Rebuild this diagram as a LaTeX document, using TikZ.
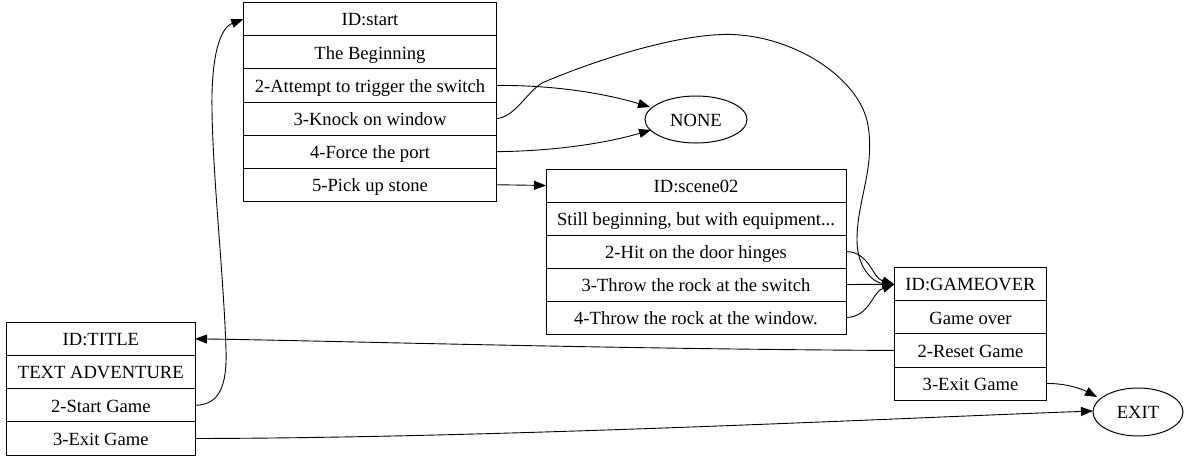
\documentclass[tikz,border=0pt]{standalone}
\usepackage{fontspec}
\setmainfont{Liberation Serif}
\usetikzlibrary{arrows.meta,shapes.geometric}
\begin{document}
\begin{tikzpicture}[x=1pt,y=-1pt,
  font=\fontsize{18.6}{20}\selectfont,
  cell/.style={draw, line width=1pt, inner sep=0pt, outer sep=0pt, minimum height=33.1pt, text height=13.4pt, text depth=0pt},
  startcell/.style={cell, minimum width=253.4pt},
  scenecell/.style={cell, minimum width=300pt, minimum height=33pt},
  gocell/.style={cell, minimum width=152.4pt},
  titlecell/.style={cell, minimum width=188.3pt, minimum height=33.2pt},
  term/.style={draw, line width=1pt, ellipse, inner sep=0pt, text height=13.4pt, text depth=0pt},
  edge/.style={line width=0.9pt, -{Triangle[length=12pt,width=9pt]}}
]
\useasboundingbox (0,0) rectangle (1192,466);
% start record
\node[startcell] (s1) at (370,19.25) {ID:start};
\node[startcell] (s2) at (370,52.35) {The Beginning};
\node[startcell] (s3) at (370,85.45) {2-Attempt to trigger the switch};
\node[startcell] (s4) at (370,118.55) {3-Knock on window};
\node[startcell] (s5) at (370,151.65) {4-Force the port};
\node[startcell] (s6) at (370,184.75) {5-Pick up stone};
% scene02 record
\node[scenecell] (c1) at (696,185.5) {ID:scene02};
\node[scenecell] (c2) at (696,218.5) {Still beginning, but with equipment...};
\node[scenecell] (c3) at (696,251.5) {2-Hit on the door hinges};
\node[scenecell] (c4) at (696,284.5) {3-Throw the rock at the switch};
\node[scenecell] (c5) at (696,317.5) {4-Throw the rock at the window.};
% GAMEOVER record
\node[gocell] (g1) at (970.5,284.25) {ID:GAMEOVER};
\node[gocell] (g2) at (970.5,317.35) {Game over};
\node[gocell] (g3) at (970.5,350.45) {2-Reset Game};
\node[gocell] (g4) at (970.5,383.55) {3-Exit Game};
% TITLE record
\node[titlecell] (t1) at (100.85,338.9) {ID:TITLE};
\node[titlecell] (t2) at (100.85,372.1) {TEXT ADVENTURE};
\node[titlecell] (t3) at (100.85,405.3) {2-Start Game};
\node[titlecell] (t4) at (100.85,438.5) {3-Exit Game};
% terminals
\node[term, minimum width=102pt, minimum height=47pt] (none) at (696,119.5) {NONE};
\node[term, minimum width=90pt, minimum height=48pt] (exit) at (1138,412) {EXIT};
% edges
\draw[edge] (t3.east) .. controls (220,405) and (227,385) .. (226,350)
  .. controls (224,280) and (213,180) .. (212,110)
  .. controls (211,50) and (222,27) .. (s1.west);
\draw[edge] (s3.east) .. controls (560,85) and (610,95) .. (650,107);
\draw[edge] (s5.east) .. controls (560,151) and (610,142) .. (651,130);
\draw[edge] (s6.east) -- (c1.west);
\draw[edge] (s4.east) .. controls (515,117) and (527,92) .. (542,83)
  .. controls (600,58) and (690,30) .. (740,35)
  .. controls (800,40) and (860,80) .. (868,125)
  .. controls (875,170) and (857,200) .. (857,240)
  .. controls (857,270) and (875,283) .. (g1.west);
\draw[edge] (c3.east) .. controls (870,252) and (872,278) .. (g1.west);
\draw[edge] (c4.east) -- (g1.west);
\draw[edge] (c5.east) .. controls (870,317) and (872,292) .. (g1.west);
\draw[edge] (g3.west) .. controls (600,349) and (300,340) .. (t1.east);
\draw[edge] (g4.east) .. controls (1065,383) and (1082,389) .. (1097,397);
\draw[edge] (t4.east) .. controls (500,438) and (900,418) .. (1093,411);
\end{tikzpicture}
\end{document}
